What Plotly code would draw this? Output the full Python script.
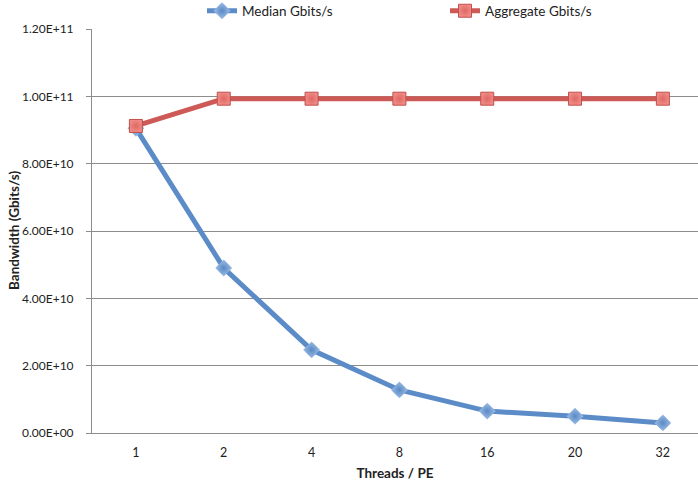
import plotly.graph_objects as go

# Threads per PE (categorical x axis)
threads = ["1", "2", "4", "8", "16", "20", "32"]

# Bandwidth series, in bits/s
median_gbits = [9.05e10, 4.90e10, 2.47e10, 1.28e10, 6.5e9, 5.0e9, 3.0e9]
aggregate_gbits = [9.12e10, 9.93e10, 9.93e10, 9.93e10, 9.93e10, 9.93e10, 9.93e10]

# Y axis ticks in spreadsheet-style scientific notation
y_tickvals = [0, 2e10, 4e10, 6e10, 8e10, 1e11, 1.2e11]
y_ticktext = ["0.00E+00", "2.00E+10", "4.00E+10", "6.00E+10",
              "8.00E+10", "1.00E+11", "1.20E+11"]

FONT = "Lato"
GRID = "#8c8c8c"
TEXT = "#222222"

fig = go.Figure()

fig.add_trace(go.Scatter(
    x=threads, y=median_gbits, name="Median Gbits/s",
    mode="lines+markers",
    line=dict(color="#5B8CC8", width=5),
    marker=dict(symbol="diamond", size=13, color="#9CBDE6",
                gradient=dict(type="radial", color="#5A89C4"),
                line=dict(width=0)),
))

fig.add_trace(go.Scatter(
    x=threads, y=aggregate_gbits, name="Aggregate Gbits/s",
    mode="lines+markers",
    line=dict(color="#CD5A57", width=5),
    marker=dict(symbol="square", size=13, color="#F08A85",
                gradient=dict(type="radial", color="#DE6863"),
                line=dict(width=1, color="#C0504D")),
))

# Rotated y-axis title placed in the left margin
fig.add_annotation(
    text="<b>Bandwidth (Gbits/s)</b>", textangle=-90,
    xref="paper", x=(14 - 92) / 606, xanchor="center",
    yref="paper", y=0.5, yanchor="middle",
    showarrow=False, font=dict(family=FONT, size=13.5, color=TEXT),
)

fig.update_layout(
    width=698, height=485,
    margin=dict(l=92, r=0, t=29, b=52, autoexpand=False),
    paper_bgcolor="white", plot_bgcolor="white",
    font=dict(family=FONT, size=12, color=TEXT),
    showlegend=True,
    legend=dict(
        orientation="h",
        xref="container", x=202 / 698, xanchor="left",
        yref="paper", y=1.0446, yanchor="middle",
        entrywidth=198, entrywidthmode="pixels",
        font=dict(family=FONT, size=13.5, color=TEXT),
        bgcolor="rgba(0,0,0,0)", itemwidth=30,
    ),
    xaxis=dict(
        type="category", range=[-0.5, 6.40],
        showgrid=False, zeroline=False,
        showline=True, linecolor=GRID, linewidth=1,
        ticks="", ticklabelstandoff=8,
        tickfont=dict(family=FONT, size=12.5, color=TEXT),
        title=dict(text="<b>Threads / PE</b>", standoff=9,
                   font=dict(family=FONT, size=13.5, color=TEXT)),
    ),
    yaxis=dict(
        range=[0, 1.2e11], tickvals=y_tickvals, ticktext=y_ticktext,
        showgrid=True, gridcolor=GRID, gridwidth=1,
        zeroline=False, showline=True, linecolor=GRID, linewidth=1,
        ticks="outside", ticklen=5, tickcolor=GRID,
        ticklabelstandoff=10,
        tickfont=dict(family=FONT, size=12, color=TEXT),
    ),
)

fig.write_html("out.html")
